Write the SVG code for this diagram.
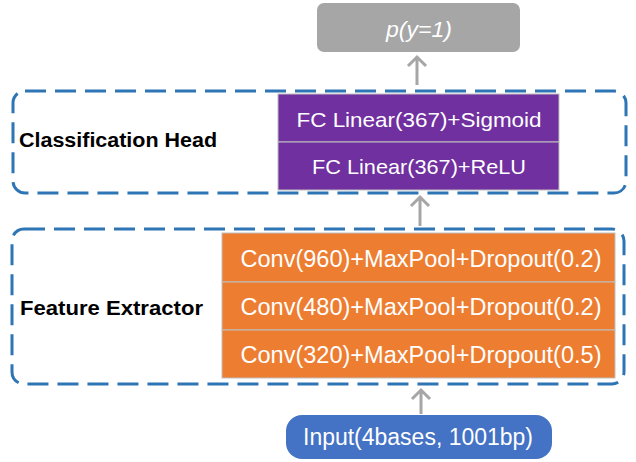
<svg xmlns="http://www.w3.org/2000/svg" width="636" height="462" viewBox="0 0 636 462">
<style>
.grp{fill:none;stroke:#2e75b6;stroke-width:3;stroke-dasharray:21 9}
.orange{fill:#ed7d31;stroke:#bfbfbf;stroke-width:1}
.purple{fill:#7030a0;stroke:#bfbfbf;stroke-width:1}
.t{font-family:"Liberation Sans",Arial,sans-serif;fill:#ffffff;text-anchor:middle}
.lbl{font-family:"Liberation Sans",Arial,sans-serif;font-weight:bold;fill:#000000}
.conn{fill:none;stroke:#a6a6a6;stroke-width:3}
</style>
<g id="output">
<rect x="317" y="3" width="203" height="49" rx="7" fill="#a6a6a6"/>
<text class="t" x="419" y="37" font-size="22" font-style="italic" fill="#f2f2f2" textLength="66" lengthAdjust="spacingAndGlyphs">p(y=1)</text>
</g>
<g id="classification-head">
<rect class="grp" x="13" y="91" width="613" height="102" rx="12"/>
<text class="lbl" x="19" y="147" font-size="20" textLength="198" lengthAdjust="spacingAndGlyphs">Classification Head</text>
</g>
<g id="fc-sigmoid">
<rect class="purple" x="278" y="94" width="281" height="48"/>
<text class="t" x="419" y="126.5" font-size="21" textLength="245" lengthAdjust="spacingAndGlyphs">FC Linear(367)+Sigmoid</text>
</g>
<g id="fc-relu">
<rect class="purple" x="278" y="142" width="281" height="48"/>
<text class="t" x="419" y="174" font-size="21" textLength="214" lengthAdjust="spacingAndGlyphs">FC Linear(367)+ReLU</text>
</g>
<g id="feature-extractor">
<rect class="grp" x="12" y="229" width="612" height="155" rx="12"/>
<text class="lbl" x="20" y="314.5" font-size="20" textLength="183" lengthAdjust="spacingAndGlyphs">Feature Extractor</text>
</g>
<g id="conv960">
<rect class="orange" x="222" y="233" width="393" height="49"/>
<text class="t" x="421" y="266.5" font-size="23" textLength="361" lengthAdjust="spacingAndGlyphs">Conv(960)+MaxPool+Dropout(0.2)</text>
</g>
<g id="conv480">
<rect class="orange" x="222" y="282" width="393" height="48"/>
<text class="t" x="421" y="314.5" font-size="23" textLength="361" lengthAdjust="spacingAndGlyphs">Conv(480)+MaxPool+Dropout(0.2)</text>
</g>
<g id="conv320">
<rect class="orange" x="222" y="330" width="393" height="48"/>
<text class="t" x="421" y="362.5" font-size="23" textLength="361" lengthAdjust="spacingAndGlyphs">Conv(320)+MaxPool+Dropout(0.5)</text>
</g>
<g id="input">
<rect x="286" y="415" width="266" height="44" rx="16" fill="#4472c4"/>
<text class="t" x="418" y="445" font-size="23" textLength="230" lengthAdjust="spacingAndGlyphs">Input(4bases, 1001bp)</text>
</g>
<g id="connectors">
<path class="conn" d="M417 85 V58 M408 66 L417 57 L426 66"/>
<path class="conn" d="M420 226 V198 M411 206 L420 197 L429 206"/>
<path class="conn" d="M421 414 V391 M412 399 L421 390 L430 399"/>
</g>
</svg>
